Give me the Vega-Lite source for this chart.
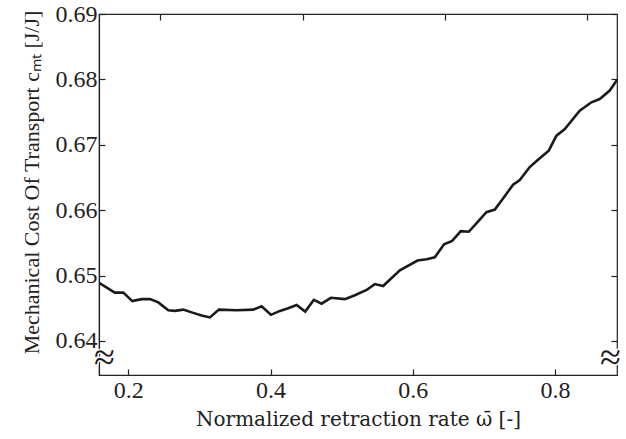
{
  "$schema": "https://vega.github.io/schema/vega-lite/v6.json",
  "width": 518,
  "height": 361,
  "autosize": {"type": "none"},
  "padding": {"left": 99, "top": 14, "right": 9, "bottom": 64},
  "background": "white",
  "config": {
    "view": {"stroke": "#222", "strokeWidth": 1.2},
    "font": "Liberation Serif",
    "axis": {
      "labelFont": "Liberation Serif",
      "titleFont": "Liberation Serif",
      "labelFontSize": 24,
      "titleFontSize": 22,
      "titleFontWeight": "normal",
      "labelColor": "#222",
      "titleColor": "#222",
      "domainColor": "#222",
      "tickColor": "#222",
      "domainWidth": 1.2,
      "tickWidth": 1.2,
      "tickSize": -6,
      "grid": false
    }
  },
  "datasets": {
    "curve": [
      {"w": 0.1588, "c": 0.6489},
      {"w": 0.181, "c": 0.6474},
      {"w": 0.193, "c": 0.6474},
      {"w": 0.2056, "c": 0.6461},
      {"w": 0.2188, "c": 0.6464},
      {"w": 0.2305, "c": 0.6464},
      {"w": 0.2422, "c": 0.6459},
      {"w": 0.2562, "c": 0.6447},
      {"w": 0.2656, "c": 0.6446},
      {"w": 0.2773, "c": 0.6448},
      {"w": 0.2913, "c": 0.6443},
      {"w": 0.3031, "c": 0.6439},
      {"w": 0.3148, "c": 0.6436},
      {"w": 0.3274, "c": 0.6448},
      {"w": 0.3523, "c": 0.6447},
      {"w": 0.3756, "c": 0.6448},
      {"w": 0.3874, "c": 0.6453},
      {"w": 0.4005, "c": 0.644},
      {"w": 0.4132, "c": 0.6446},
      {"w": 0.4248, "c": 0.645},
      {"w": 0.4366, "c": 0.6455},
      {"w": 0.4487, "c": 0.6445},
      {"w": 0.4609, "c": 0.6463},
      {"w": 0.4717, "c": 0.6457},
      {"w": 0.4848, "c": 0.6466},
      {"w": 0.5045, "c": 0.6464},
      {"w": 0.5186, "c": 0.647},
      {"w": 0.535, "c": 0.6478},
      {"w": 0.5466, "c": 0.6487},
      {"w": 0.5583, "c": 0.6484},
      {"w": 0.5818, "c": 0.6508},
      {"w": 0.6066, "c": 0.6523},
      {"w": 0.6193, "c": 0.6525},
      {"w": 0.6309, "c": 0.6528},
      {"w": 0.644, "c": 0.6548},
      {"w": 0.6553, "c": 0.6553},
      {"w": 0.6675, "c": 0.6568},
      {"w": 0.6787, "c": 0.6567},
      {"w": 0.6872, "c": 0.6577},
      {"w": 0.7036, "c": 0.6597},
      {"w": 0.7153, "c": 0.6601},
      {"w": 0.7269, "c": 0.6618},
      {"w": 0.741, "c": 0.6639},
      {"w": 0.7504, "c": 0.6646},
      {"w": 0.7644, "c": 0.6666},
      {"w": 0.7761, "c": 0.6677},
      {"w": 0.7911, "c": 0.6691},
      {"w": 0.802, "c": 0.6714},
      {"w": 0.8137, "c": 0.6724},
      {"w": 0.8347, "c": 0.6752},
      {"w": 0.8511, "c": 0.6765},
      {"w": 0.8628, "c": 0.677},
      {"w": 0.8769, "c": 0.6783},
      {"w": 0.8871, "c": 0.6799}
    ],
    "breaks": [
      {"w": 0.1665, "c": 0.6372, "s": "≈"},
      {"w": 0.878, "c": 0.6373, "s": "≈"}
    ]
  },
  "resolve": {"axis": {"x": "independent", "y": "independent"}},
  "layer": [
    {
      "data": {"name": "curve"},
      "mark": {"type": "line", "color": "#1a1a1a", "strokeWidth": 2.6, "clip": true},
      "encoding": {
        "x": {
          "field": "w", "type": "quantitative",
          "scale": {"domain": [0.1588, 0.8871], "nice": false, "zero": false},
          "axis": {"values": [0.2, 0.4, 0.6, 0.8], "format": ".1f", "labelPadding": 9,
                   "title": "Normalized retraction rate ω̄ [-]", "titlePadding": 7,
                   "titleFont": "DejaVu Serif", "titleFontSize": 20}
        },
        "y": {
          "field": "c", "type": "quantitative",
          "scale": {"domain": [0.6348, 0.69], "nice": false, "zero": false},
          "axis": {"values": [0.64, 0.65, 0.66, 0.67, 0.68, 0.69], "format": ".2f", "labelPadding": 8,
                   "title": "Mechanical Cost Of Transport cₘₜ [J/J]", "titlePadding": 12, "titleY": 168}
        }
      }
    },
    {
      "data": {"name": "curve"},
      "mark": {"type": "line", "opacity": 0, "clip": true},
      "encoding": {
        "x": {"field": "w", "type": "quantitative",
              "axis": {"orient": "top", "values": [0.245, 0.445, 0.645, 0.845], "labels": false, "title": null, "domain": false}},
        "y": {"field": "c", "type": "quantitative",
              "axis": {"orient": "right", "values": [0.64, 0.65, 0.66, 0.67, 0.68, 0.69], "labels": false, "title": null, "domain": false}}
      }
    },
    {
      "data": {"name": "breaks"},
      "mark": {"type": "text", "fontSize": 38, "font": "Liberation Serif", "color": "white", "stroke": "white", "strokeWidth": 3, "baseline": "middle", "align": "center"},
      "encoding": {
        "x": {"field": "w", "type": "quantitative", "axis": null},
        "y": {"field": "c", "type": "quantitative", "axis": null},
        "text": {"field": "s"}
      }
    },
    {
      "data": {"name": "breaks"},
      "mark": {"type": "text", "fontSize": 38, "font": "Liberation Serif", "color": "#1a1a1a", "baseline": "middle", "align": "center"},
      "encoding": {
        "x": {"field": "w", "type": "quantitative", "axis": null},
        "y": {"field": "c", "type": "quantitative", "axis": null},
        "text": {"field": "s"}
      }
    }
  ]
}
